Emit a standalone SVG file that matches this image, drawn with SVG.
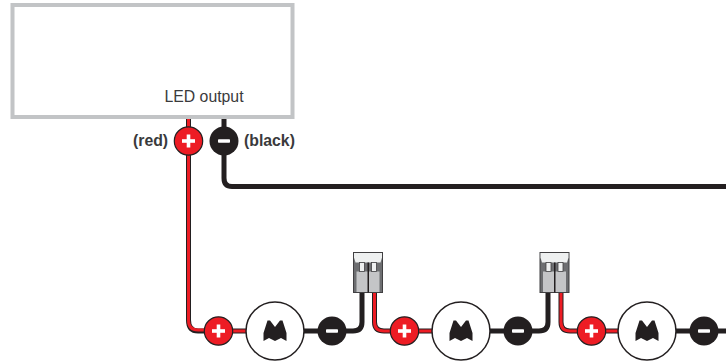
<svg xmlns="http://www.w3.org/2000/svg" width="726" height="362" viewBox="0 0 726 362">
<style>
.t{font-family:"Liberation Sans",Arial,sans-serif;fill:#3a3a3c}
.b{font-size:15.8px;font-weight:bold}
.wk{fill:none;stroke:#231f20;stroke-width:5}
.wro{fill:none;stroke:#231f20;stroke-width:5}
.wr{fill:none;stroke:#ed1c24;stroke-width:3}
.pos{fill:#ed1c24;stroke:#231f20;stroke-width:1.2}
.neg{fill:#231f20}
.sym{fill:#fff}
.led{fill:#fff;stroke:#231f20;stroke-width:1.5}
</style>
<defs>
<g id="plus"><circle class="pos" r="14.200"/><rect class="sym" x="-6.500" y="-1.800" width="13" height="3.600"/><rect class="sym" x="-1.800" y="-6.500" width="3.600" height="13"/></g>
<g id="minus"><circle class="neg" r="14.500"/><rect class="sym" x="-6" y="-1.800" width="12" height="3.600" rx="0.800"/></g>
<g id="ledm"><circle class="led" r="29"/><path fill="#231f20" d="M-11.500 2 L-7.500 -10.500 L-5 -10.500 L0 -4 L5 -10.500 L7.500 -10.500 L11.500 2 V10 L6 7 L0 10 L-6 7 L-11.500 10 Z"/></g>
<g id="conn">
<rect x="0" y="0" width="29" height="40" fill="#6d6e71" stroke="#414042" stroke-width="1"/>
<path d="M0.500 0.500H28.500V5L27 10H2L0.500 5Z" fill="#eef0f0"/>
<rect x="3" y="19" width="23" height="20.500" fill="#c4c5c7"/>
<rect x="14" y="10" width="1.500" height="30" fill="#231f20"/>
<rect x="6" y="10" width="5" height="9" fill="#eef0f0" stroke="#414042" stroke-width="0.800"/>
<rect x="18" y="10" width="5" height="9" fill="#eef0f0" stroke="#414042" stroke-width="0.800"/>
</g>
</defs>
<g id="driver">
<rect x="12.500" y="5" width="280" height="112" fill="#fff" stroke="#c2c4c6" stroke-width="4"/>
<text class="t" x="164.500" y="102" font-size="15.800">LED output</text>
</g>
<g id="connectors">
<path class="wro" d="M188.500 119V320Q188.500 331 198 331H220"/>
<path class="wr" d="M188.500 119V320Q188.500 330 198 330H220"/>
<path class="wk" d="M224 119V178Q224 186.500 232 186.500H726"/>
<path class="wro" d="M220 331H275"/>
<path class="wr" d="M220 331H275"/>
<path class="wk" d="M275 331H353Q362 331 362 322V290"/>
<path class="wro" d="M374.500 290V322Q374.500 331 384 331H460"/>
<path class="wr" d="M374.500 290V322Q374.500 331 384 331H460"/>
<path class="wk" d="M460 331H539Q548 331 548 322V290"/>
<path class="wro" d="M561 290V322Q561 331 570 331H647"/>
<path class="wr" d="M561 290V322Q561 331 570 331H647"/>
<path class="wk" d="M647 331H726"/>
</g>
<g id="driver-plus"><use href="#plus" x="188.500" y="141"/><text class="t b" x="133" y="146">(red)</text></g>
<g id="driver-minus"><use href="#minus" x="224" y="141"/><text class="t b" x="244" y="146">(black)</text></g>
<g id="p1"><use href="#plus" x="218.500" y="331"/></g>
<g id="led1"><use href="#ledm" x="275" y="331"/></g>
<g id="m1"><use href="#minus" x="332" y="331"/></g>
<g id="conn1"><use href="#conn" x="353.500" y="252.500"/></g>
<g id="p2"><use href="#plus" x="404.500" y="331"/></g>
<g id="led2"><use href="#ledm" x="461" y="331"/></g>
<g id="m2"><use href="#minus" x="518" y="331"/></g>
<g id="conn2"><use href="#conn" x="540" y="252.500"/></g>
<g id="p3"><use href="#plus" x="591.500" y="331"/></g>
<g id="led3"><use href="#ledm" x="647" y="331"/></g>
<g id="m3"><use href="#minus" x="704" y="331"/></g>
</svg>
